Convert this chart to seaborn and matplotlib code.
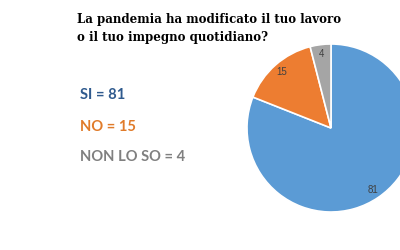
import matplotlib
matplotlib.use("Agg")
import matplotlib.pyplot as plt
import seaborn as sns

categories = ["SI", "NO", "NON LO SO"]
values = [81, 15, 4]
slice_colors = ["#5B9BD5", "#ED7D31", "#A5A5A5"]
text_colors = ["#2F5A8E", "#E07B2A", "#808080"]
title_lines = ["La pandemia ha modificato il tuo lavoro", "o il tuo impegno quotidiano?"]

sns.set_theme(style="white")
plt.rcParams['font.family'] = ['DejaVu Sans']

fig = plt.figure(figsize=(4, 2.5), dpi=100)
fig.patch.set_facecolor("white")

# pie axes (square box, centred at ~ (331,128) px, radius ~84 px)
ax = fig.add_axes([0.6175, 0.152, 0.42, 0.672])
palette = sns.color_palette(slice_colors)
wedges, texts = ax.pie(values, colors=palette, startangle=90, counterclock=False,
                       labels=[str(v) for v in values], labeldistance=0.89,
                       wedgeprops=dict(edgecolor="white", linewidth=1.2),
                       textprops=dict(fontsize=7, color="#404040", family="Liberation Sans"))
for t in texts:
    t.set_horizontalalignment("center")
    t.set_verticalalignment("center")
ax.set_xlim(-1, 1)
ax.set_ylim(-1, 1)
ax.set_aspect("equal")
ax.axis("off")

# title
for line, y in zip(title_lines, [20, 38]):
    fig.text(77/400, 1 - y/250, line, fontsize=8.5, fontweight="bold",
             family="DejaVu Serif", color="black", ha="left", va="center")

# legend-like texts
ys = [95, 127, 157]
for cat, val, col, y in zip(categories, values, text_colors, ys):
    fig.text(80/400, 1 - y/250, f"{cat} = {val}", fontsize=10.6, fontweight="bold",
             family="Lato", color=col, ha="left", va="center")

fig.savefig("out.png", dpi=100)
